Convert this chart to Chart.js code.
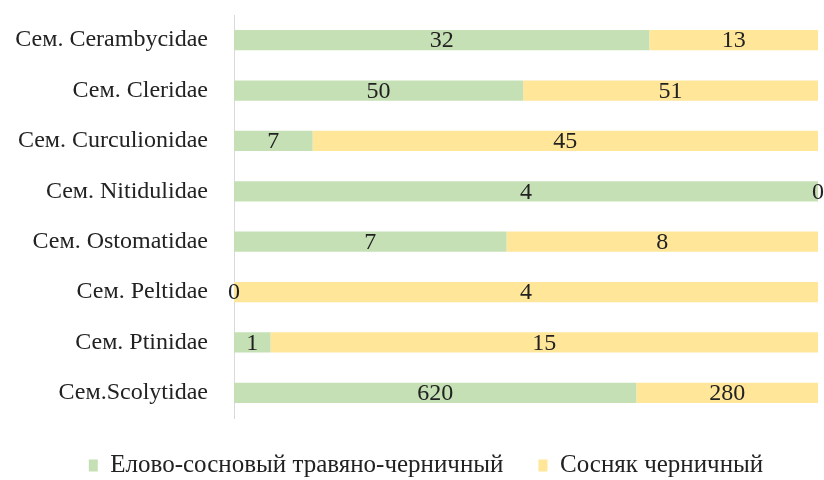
<!DOCTYPE html>
<html>
<head>
<meta charset="utf-8">
<script src="https://cdn.jsdelivr.net/npm/chart.js@4.4.1/dist/chart.umd.min.js"></script>
<style>
  html, body { margin: 0; padding: 0; background: #fff; }
  #wrap { width: 824px; height: 480px; position: relative; }
</style>
</head>
<body>
<div id="wrap"><canvas id="chart"></canvas></div>
<script>
// Семейства жуков, число видов по типам леса
var families = [
  'Сем. Cerambycidae',
  'Сем. Cleridae',
  'Сем. Curculionidae',
  'Сем. Nitidulidae',
  'Сем. Ostomatidae',
  'Сем. Peltidae',
  'Сем. Ptinidae',
  'Сем.Scolytidae'
];
var spruceCounts = [32, 50, 7, 4, 7, 0, 1, 620];
var pineCounts = [13, 51, 45, 0, 8, 4, 15, 280];
var seriesNames = ['Елово-сосновый травяно-черничный', 'Сосняк черничный'];

var SERIF = "'Liberation Serif', 'Times New Roman', serif";
var AXIS_X = 234;
var LEGEND_H = 62;
var LEGEND_SHIFT = 34;

function share(a, b) {
  return a.map(function (v, i) {
    var t = v + b[i];
    return t ? (v / t) * 100 : 0;
  });
}

// подписи значений по центру каждого сегмента
var valueLabels = {
  id: 'valueLabels',
  afterDatasetsDraw: function (chart) {
    var c = chart.ctx;
    var raw = [spruceCounts, pineCounts];
    c.save();
    c.font = '24px ' + SERIF;
    c.fillStyle = '#222';
    c.textAlign = 'center';
    c.textBaseline = 'middle';
    chart.data.datasets.forEach(function (ds, di) {
      chart.getDatasetMeta(di).data.forEach(function (bar, i) {
        c.fillText(String(raw[di][i]), (bar.x + bar.base) / 2, bar.y + 1);
      });
    });
    c.restore();
  }
};

// легенда: большой отступ между пунктами, фиксированная высота блока,
// центр чуть правее середины холста
var legendBox = {
  id: 'legendBox',
  beforeInit: function (chart) {
    var lg = chart.legend;
    if (!lg) return;
    var fit = lg.fit;
    lg.fit = function () {
      fit.call(lg);
      lg.height = LEGEND_H;
    };
  },
  afterLayout: function (chart) {
    if (chart.legend) chart.legend.left += LEGEND_SHIFT;
  }
};

new Chart(document.getElementById('chart'), {
  type: 'bar',
  data: {
    labels: families,
    datasets: [
      {
        label: seriesNames[0],
        data: share(spruceCounts, pineCounts),
        backgroundColor: '#c5e0b4',
        barPercentage: 0.4,
        categoryPercentage: 1
      },
      {
        label: seriesNames[1],
        data: share(pineCounts, spruceCounts),
        backgroundColor: '#ffe699',
        barPercentage: 0.4,
        categoryPercentage: 1
      }
    ]
  },
  options: {
    indexAxis: 'y',
    responsive: true,
    maintainAspectRatio: false,
    animation: false,
    layout: { padding: { left: 0, right: 6, top: 15, bottom: 0 } },
    plugins: {
      tooltip: { enabled: false },
      legend: {
        position: 'bottom',
        labels: {
          boxWidth: 9,
          boxHeight: 12,
          padding: 35,
          color: '#222',
          font: { family: SERIF, size: 25 }
        }
      }
    },
    scales: {
      x: {
        display: false,
        stacked: true,
        min: 0,
        max: 100
      },
      y: {
        stacked: true,
        grid: { display: false, drawTicks: false },
        border: { display: true, color: '#d9d9d9', width: 1 },
        ticks: {
          color: '#222',
          padding: 26,
          font: { family: SERIF, size: 24 }
        },
        afterFit: function (axis) {
          axis.width = AXIS_X;
          axis.paddingTop = 0;
          axis.paddingBottom = 0;
        }
      }
    }
  },
  plugins: [valueLabels, legendBox]
});
</script>
</body>
</html>
